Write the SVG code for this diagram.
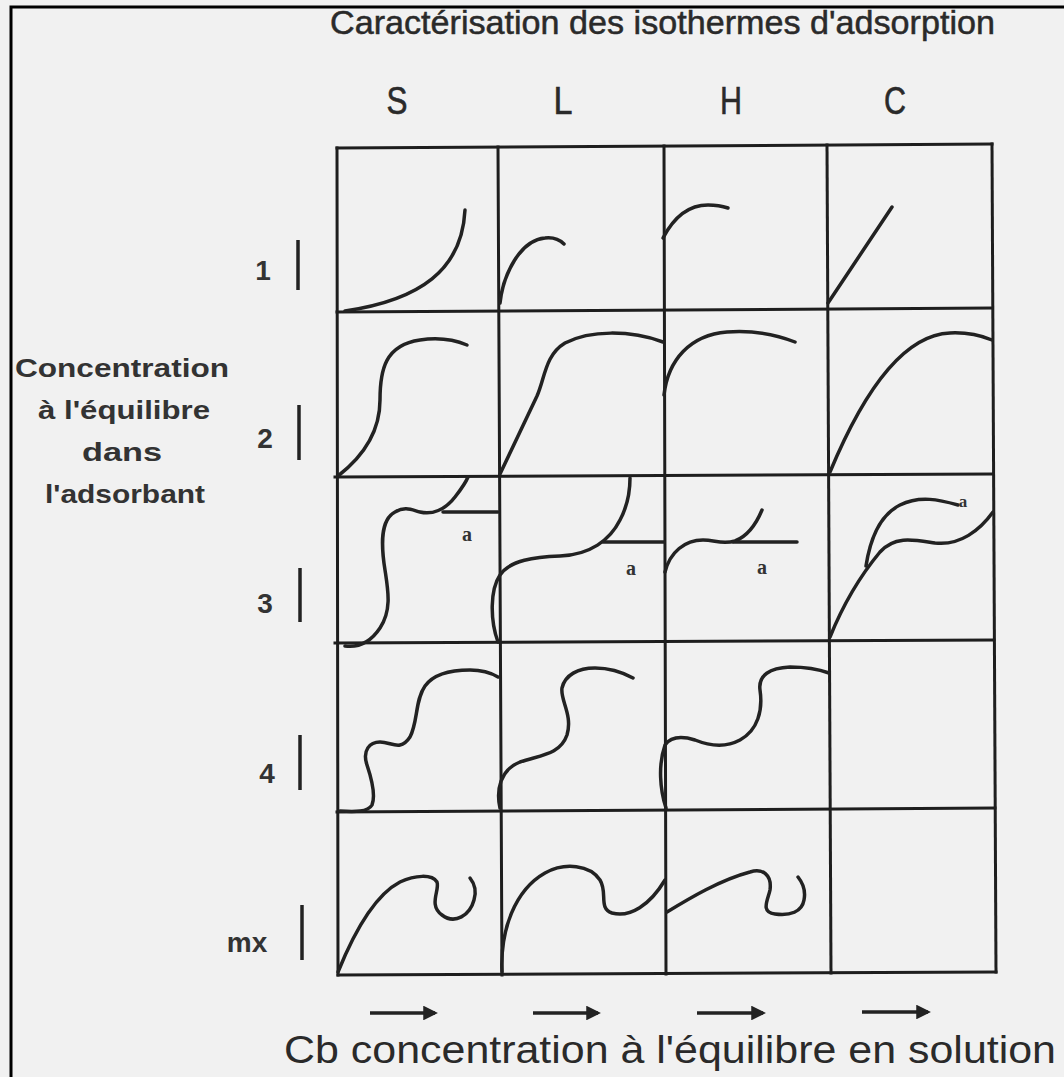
<svg xmlns="http://www.w3.org/2000/svg" width="1064" height="1077" viewBox="0 0 1064 1077">
<defs>
<style>
.grid{stroke:#1e1e1e;stroke-width:3;fill:none;stroke-linecap:square}
.curve{stroke:#222;stroke-width:3.5;fill:none;stroke-linecap:round;stroke-linejoin:round}
.bar{stroke:#222;stroke-width:3.5}
.t{font-family:"Liberation Sans",Arial,sans-serif;fill:#2a2a2a}
.lbl{font-family:"Liberation Sans",Arial,sans-serif;font-weight:bold;fill:#333;text-anchor:middle}
.a{font-family:"Liberation Serif","Times New Roman",serif;font-weight:bold;fill:#333;font-size:20px;text-anchor:middle}
.arr{stroke:#222;stroke-width:3.5;fill:none}
</style>
<marker id="ah" viewBox="0 0 10 10" refX="8" refY="5" markerWidth="4.2" markerHeight="4.2" orient="auto" markerUnits="strokeWidth">
<path d="M0,0 L10,5 L0,10 z" fill="#222"/>
</marker>
</defs>
<rect x="0" y="0" width="1064" height="1077" fill="#f1f1f1"/>
<path d="M11,1077 L11,7 L1064,7" stroke="#000" stroke-width="3" fill="none"/>

<g id="title">
<text class="t" x="330" y="34" font-size="33" stroke="#2a2a2a" stroke-width="0.5" textLength="665" lengthAdjust="spacingAndGlyphs">Caractérisation des isothermes d'adsorption</text>
</g>
<g id="col-headers" class="t" font-size="38" text-anchor="middle" stroke="#2a2a2a" stroke-width="0.6">
<text x="397" y="114" textLength="21" lengthAdjust="spacingAndGlyphs">S</text>
<text x="563" y="114" textLength="19" lengthAdjust="spacingAndGlyphs">L</text>
<text x="731" y="114" textLength="22" lengthAdjust="spacingAndGlyphs">H</text>
<text x="895" y="114" textLength="22" lengthAdjust="spacingAndGlyphs">C</text>
</g>

<g id="y-axis-label" class="lbl" font-size="25">
<text x="122" y="377" textLength="214" lengthAdjust="spacingAndGlyphs">Concentration</text>
<text x="124" y="419" textLength="172" lengthAdjust="spacingAndGlyphs">à l'équilibre</text>
<text x="122" y="461" textLength="80" lengthAdjust="spacingAndGlyphs">dans</text>
<text x="125" y="503" textLength="160" lengthAdjust="spacingAndGlyphs">l'adsorbant</text>
</g>

<g id="row-labels" class="lbl" font-size="28">
<text x="263" y="280">1</text>
<text x="265" y="448">2</text>
<text x="265" y="613">3</text>
<text x="267" y="783">4</text>
<text x="247" y="952">mx</text>
</g>
<g id="row-bars" class="bar">
<line x1="298" y1="240" x2="298" y2="290"/>
<line x1="299" y1="405" x2="299" y2="460"/>
<line x1="300" y1="568" x2="300" y2="622"/>
<line x1="300" y1="735" x2="300" y2="790"/>
<line x1="302" y1="905" x2="302" y2="960"/>
</g>

<g id="grid" class="grid">
<line x1="337" y1="148" x2="992" y2="144"/>
<line x1="337" y1="312" x2="992" y2="308"/>
<line x1="335" y1="477" x2="993" y2="474"/>
<line x1="335" y1="643" x2="994" y2="640"/>
<line x1="337" y1="812" x2="995" y2="808"/>
<line x1="338" y1="975" x2="996" y2="972"/>
<line x1="337" y1="148" x2="338" y2="975"/>
<line x1="498" y1="147" x2="502" y2="975"/>
<line x1="664" y1="146" x2="666" y2="974"/>
<line x1="827" y1="145" x2="831" y2="973"/>
<line x1="992" y1="144" x2="996" y2="972"/>
</g>

<g id="curves" class="curve">
<path id="S1" d="M345,311 C420,300 462,270 465,210"/>
<path id="L1" d="M500,303 C503,275 520,240 545,238 C554,237 560,240 564,244"/>
<path id="H1" d="M663,238 C675,215 690,205 708,205 C716,205 722,206 728,208"/>
<path id="C1" d="M828,303 L892,207"/>
<path id="S2" d="M338,476 C365,455 380,430 380,400 C380,370 385,345 420,340 C440,337 455,340 467,345"/>
<path id="L2" d="M500,474 L537,396 C545,378 545,355 565,343 C590,330 630,330 663,342"/>
<path id="H2" d="M664,395 C668,360 690,335 727,332 C755,330 780,336 795,342"/>
<path id="C2" d="M830,472 C860,400 900,335 950,333 C970,332 982,336 992,340"/>
<path id="S3" d="M345,646 C360,648 372,640 380,628 C392,610 388,590 385,570 C381,545 380,520 395,512 C405,506 412,510 420,512 C432,515 445,510 455,497 C462,488 466,482 468,477"/>
<path id="S3a" d="M443,512 L498,512"/>
<path id="L3" d="M498,642 C490,620 490,590 500,575 C510,560 535,557 560,556 C590,555 610,540 620,520 C628,505 630,490 630,478"/>
<path id="L3a" d="M603,542 L664,542"/>
<path id="H3" d="M665,572 C670,552 685,540 703,540 C715,540 722,545 735,541 C748,536 757,522 762,510"/>
<path id="H3a" d="M733,542 L797,542"/>
<path id="C3" d="M830,637 C845,600 865,570 880,552 C895,535 915,540 935,543 C960,546 980,530 993,512"/>
<path id="C3b" d="M866,566 C870,540 880,515 900,505 C920,495 940,500 958,505"/>
<path id="S4" d="M340,811 C355,812 368,812 372,805 C376,795 372,780 367,765 C362,750 370,742 380,742 C392,742 400,752 410,737 C418,722 415,700 425,686 C435,672 455,670 470,670 C485,670 493,674 498,677"/>
<path id="L4" d="M500,808 C496,790 500,770 520,762 C540,755 560,755 567,735 C573,715 560,700 562,688 C565,675 578,668 595,668 C610,668 622,672 633,678"/>
<path id="H4" d="M666,808 C660,790 658,765 665,745 C672,735 685,737 695,740 C710,746 725,748 740,740 C758,730 763,710 760,690 C758,675 770,668 790,667 C808,667 818,669 829,673"/>
<path id="S5" d="M338,972 C355,930 375,895 400,882 C415,875 432,874 437,882 C440,890 428,905 442,915 C455,925 470,915 474,900 C477,890 474,883 470,878"/>
<path id="L5" d="M502,972 C500,930 515,890 545,873 C565,862 590,865 600,880 C608,893 598,908 612,913 C630,918 650,905 665,880"/>
<path id="H5" d="M667,912 C690,898 720,880 750,872 C763,868 772,875 770,890 C768,900 760,912 775,914 C790,916 802,912 804,900 C806,890 802,882 798,877"/>
</g>

<g id="a-labels" class="a">
<text x="467" y="541">a</text>
<text x="631" y="575">a</text>
<text x="762" y="574">a</text>
<text x="963" y="507" font-size="17">a</text>
</g>

<g id="arrows" class="arr">
<line x1="370" y1="1013" x2="435" y2="1013" marker-end="url(#ah)"/>
<line x1="533" y1="1013" x2="598" y2="1013" marker-end="url(#ah)"/>
<line x1="697" y1="1013" x2="763" y2="1013" marker-end="url(#ah)"/>
<line x1="862" y1="1012" x2="928" y2="1012" marker-end="url(#ah)"/>
</g>

<g id="x-axis-label">
<text class="t" x="284" y="1063" font-size="38" textLength="772" lengthAdjust="spacingAndGlyphs">Cb concentration à l'équilibre en solution</text>
</g>
</svg>
